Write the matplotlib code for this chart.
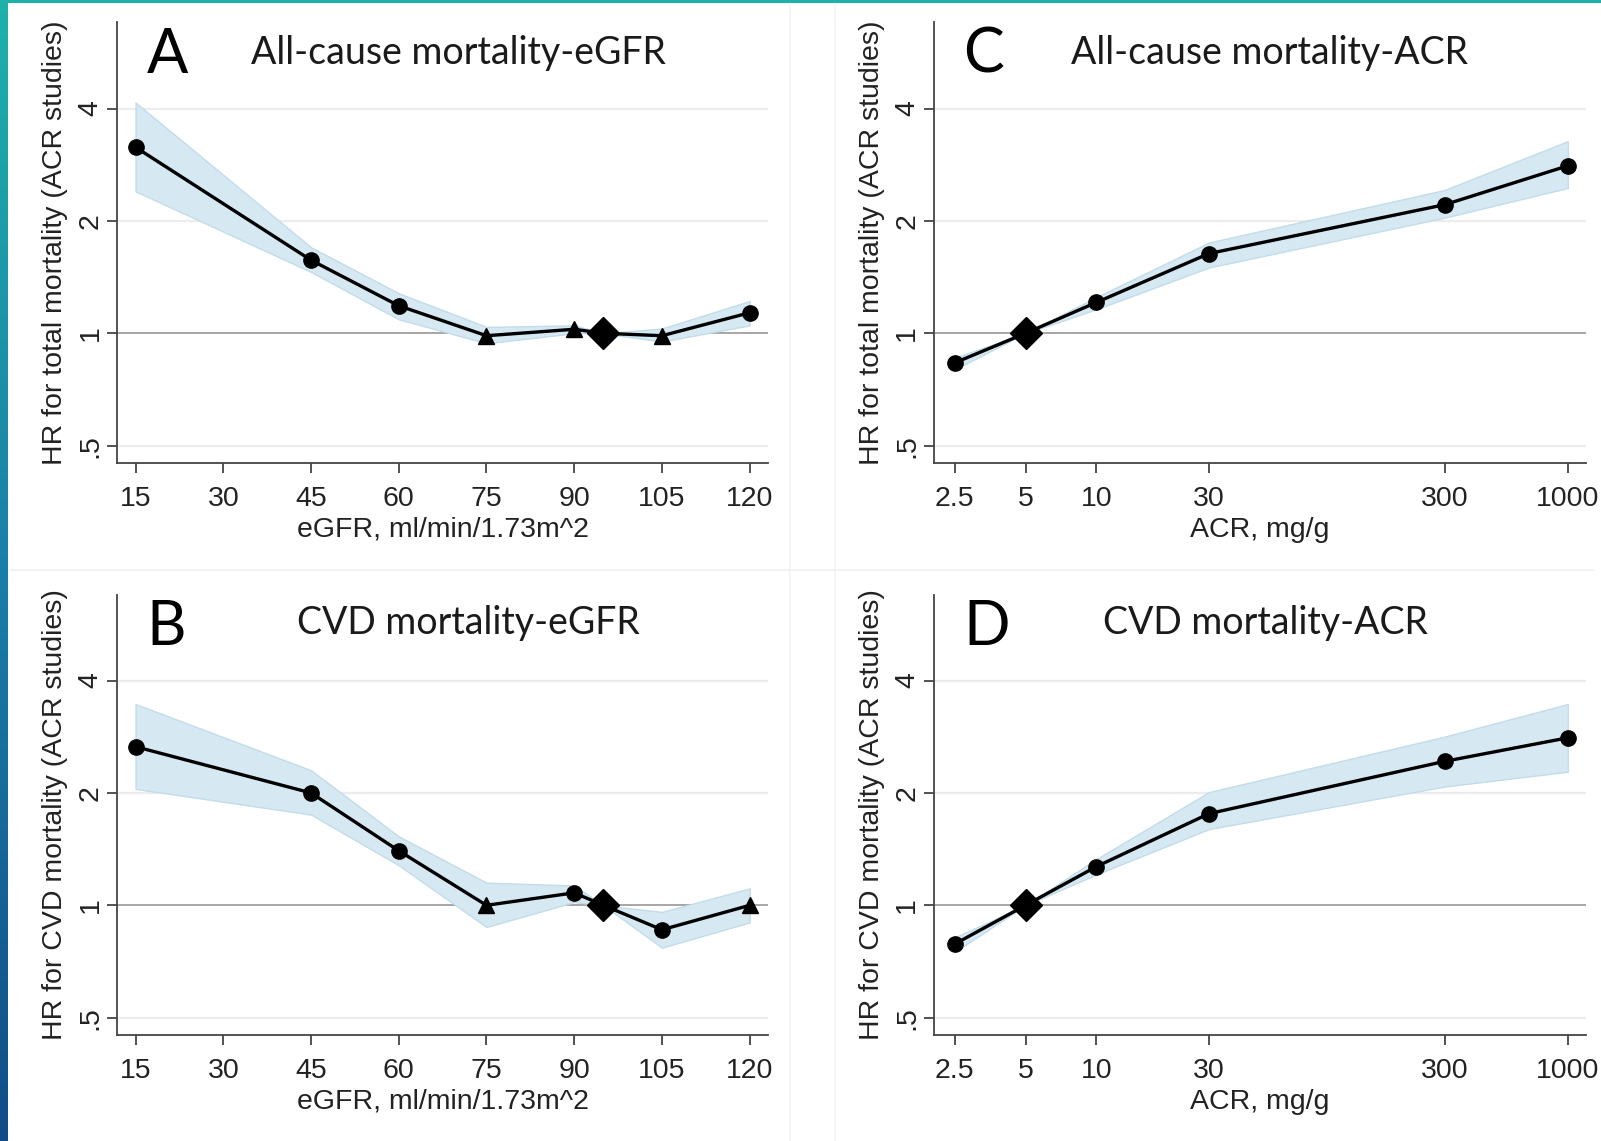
import numpy as np
import matplotlib
matplotlib.use("Agg")
from matplotlib import pyplot as plt
from matplotlib.lines import Line2D
from matplotlib.patches import Rectangle

# eGFR panels (A: all-cause, B: CVD)
egfr = [15, 45, 60, 75, 90, 95, 105, 120]
hr_a = [3.15, 1.57, 1.185, 0.985, 1.025, 1.0, 0.985, 1.135]
lo_a = [2.40, 1.46, 1.09, 0.94, 1.00, 1.0, 0.95, 1.05]
hi_a = [4.15, 1.70, 1.28, 1.04, 1.05, 1.0, 1.03, 1.22]
mk_a = ['o', 'o', 'o', '^', '^', 'D', '^', 'o']

hr_b = [2.66, 2.00, 1.40, 1.00, 1.08, 1.0, 0.86, 1.00]
lo_b = [2.05, 1.75, 1.28, 0.875, 1.02, 1.0, 0.77, 0.90]
hi_b = [3.46, 2.30, 1.53, 1.15, 1.13, 1.0, 0.96, 1.11]
mk_b = ['o', 'o', 'o', '^', 'o', 'D', 'o', '^']

# ACR panels (C: all-cause, D: CVD)
acr = [2.5, 5, 10, 30, 300, 1000]
hr_c = [0.833, 1.0, 1.21, 1.635, 2.21, 2.81]
lo_c = [0.80, 1.0, 1.16, 1.50, 2.04, 2.45]
hi_c = [0.86, 1.0, 1.25, 1.75, 2.42, 3.27]
mk_c = ['o', 'D', 'o', 'o', 'o', 'o']

hr_d = [0.787, 1.0, 1.27, 1.76, 2.43, 2.81]
lo_d = [0.75, 1.0, 1.21, 1.60, 2.08, 2.28]
hi_d = [0.82, 1.0, 1.33, 2.01, 2.83, 3.46]
mk_d = ['o', 'D', 'o', 'o', 'o', 'o']

egfr_ticks = [15, 30, 45, 60, 75, 90, 105, 120]
acr_ticks = [2.5, 5, 10, 30, 300, 1000]
acr_ticklabels = ['2.5', '5', '10', '30', '300', '1000']
hr_ticks = [0.5, 1, 2, 4]
hr_ticklabels = ['.5', '1', '2', '4']

W, H = 1601, 1141
fig = plt.figure(figsize=(W / 100, H / 100), dpi=100)
fig.patch.set_facecolor('white')

SANS = ['Liberation Sans', 'DejaVu Sans']
TITLE = ['Lato', 'DejaVu Sans']
FS = 20.5


def draw_panel(rect, x, hr, lo, hi, marks, letter, ylabel, acr_axis):
    ax = fig.add_axes(rect)
    ax.set_yscale('log', base=2)
    if acr_axis:
        ax.set_xscale('log')
        ax.set_xlim(2.05, 1190)
        ax.set_xticks(acr_ticks)
        ax.set_xticklabels(acr_ticklabels)
        xlab = 'ACR, mg/g'
    else:
        ax.set_xlim(11.9, 123.1)
        ax.set_xticks(egfr_ticks)
        xlab = 'eGFR, ml/min/1.73m^2'
    ax.set_xlabel(xlab, fontsize=FS, family=SANS, color='#222222', labelpad=3)
    ax.xaxis.set_minor_locator(matplotlib.ticker.NullLocator())
    ax.yaxis.set_minor_locator(matplotlib.ticker.NullLocator())
    ax.set_ylim(0.45, 6.8)
    ax.set_yticks(hr_ticks)
    ax.set_yticklabels(hr_ticklabels, rotation=90, va='center')
    for lab in ax.get_xticklabels() + ax.get_yticklabels():
        lab.set_family(SANS)
        lab.set_fontsize(FS)
        lab.set_color('#222222')
    ax.tick_params(length=7, width=1.3, color='#444444')
    ax.tick_params(axis='x', pad=10)
    ax.tick_params(axis='y', pad=3)

    for v in hr_ticks:
        if v == 1:
            ax.axhline(v, color='#a6a6a6', lw=1.4, zorder=1)
        else:
            ax.axhline(v, color='#ececec', lw=1.6, zorder=0)

    ax.fill_between(x, lo, hi, facecolor='#d6e9f2', edgecolor='#c2dcea', lw=1.0, zorder=2)
    ax.plot(x, hr, color='black', lw=2.4, zorder=3)
    for xi, yi, m in zip(x, hr, marks):
        ms = 16 if m == 'D' else 11
        ax.plot([xi], [yi], marker=m, ms=ms, color='black', ls='none', zorder=4)

    for s in ['top', 'right']:
        ax.spines[s].set_visible(False)
    for s in ['left', 'bottom']:
        ax.spines[s].set_color('#444444')
        ax.spines[s].set_linewidth(1.3)

    ax.set_ylabel(ylabel, fontsize=FS, family=SANS, color='#222222', labelpad=7)
    ax.text(0.045, 0.925, letter, transform=ax.transAxes, fontsize=44, family=TITLE,
            ha='left', va='center', color='black')
    return ax


# panel positions from pixel boxes (left, top, right, bottom) in the shrunk view
def frac(l, t, r, b):
    sw, sh = 1568, 1117
    return [l / sw, 1 - b / sh, (r - l) / sw, (b - t) / sh]


ax_a = draw_panel(frac(115, 22, 752, 453), egfr, hr_a, lo_a, hi_a, mk_a, 'A',
                  'HR for total mortality (ACR studies)', False)
ax_b = draw_panel(frac(115, 582, 752, 1013), egfr, hr_b, lo_b, hi_b, mk_b, 'B',
                  'HR for CVD mortality (ACR studies)', False)
ax_c = draw_panel(frac(915, 22, 1553, 453), acr, hr_c, lo_c, hi_c, mk_c, 'C',
                  'HR for total mortality (ACR studies)', True)
ax_d = draw_panel(frac(915, 582, 1553, 1013), acr, hr_d, lo_d, hi_d, mk_d, 'D',
                  'HR for CVD mortality (ACR studies)', True)

titles = [(ax_a, 'All-cause mortality-eGFR', 0.524, 0.93),
          (ax_b, 'CVD mortality-eGFR', 0.54, 0.935),
          (ax_c, 'All-cause mortality-ACR', 0.514, 0.93),
          (ax_d, 'CVD mortality-ACR', 0.508, 0.935)]
for ax, t, tx, ty in titles:
    ax.text(tx, ty, t, transform=ax.transAxes, fontsize=27, family=TITLE,
            ha='center', va='center', color='#1a1a1a')

# faint panel borders
for xf in [790 / W, 835 / W]:
    fig.add_artist(Line2D([xf, xf], [0, 0.995], color='#f3f3f3', lw=1.2))
fig.add_artist(Line2D([0.006, 0.995], [1 - 570 / H, 1 - 570 / H], color='#f0f0f0', lw=1.2))

# teal/blue frame strips
strip = fig.add_axes([0, 0, 8 / W, 1])
grad = np.linspace(0, 1, 256).reshape(-1, 1)
cmap = matplotlib.colors.LinearSegmentedColormap.from_list('edge', ['#1fb0aa', '#1a7fa6', '#124c86'])
strip.imshow(grad, aspect='auto', cmap=cmap, extent=[0, 1, 0, 1], origin='upper')
strip.axis('off')
fig.add_artist(Rectangle((0, 1 - 3 / H), 1, 3 / H, transform=fig.transFigure,
                         facecolor='#1fb0aa', edgecolor='none'))

fig.savefig('out.png', dpi=100)
